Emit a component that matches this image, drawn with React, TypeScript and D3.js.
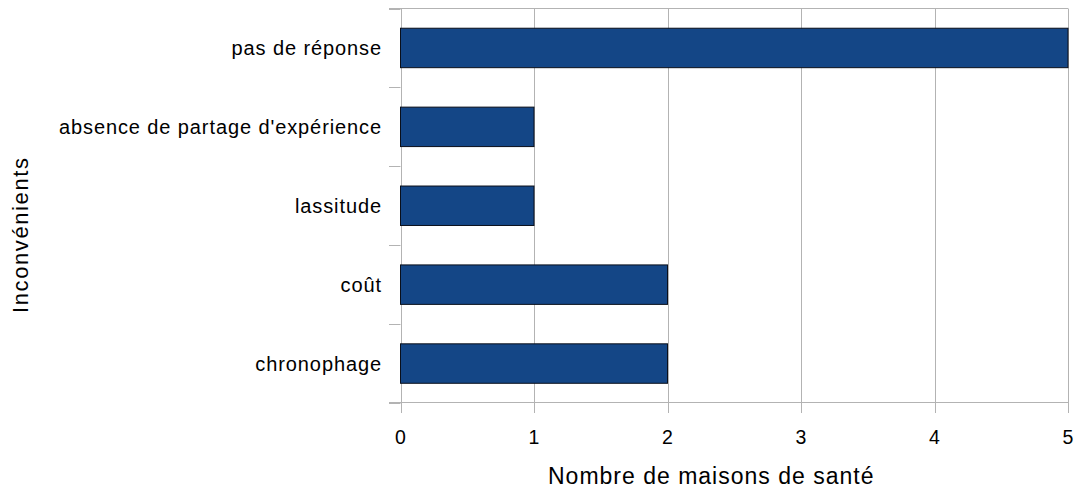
import React from "react";
import * as d3 from "d3";

const categories = ["pas de réponse", "absence de partage d'expérience", "lassitude", "coût", "chronophage"];
const values = [5, 1, 1, 2, 2];
const xTicks = [0, 1, 2, 3, 4, 5];
const xTitle = "Nombre de maisons de santé";
const yTitle = "Inconvénients";

const W = 1078, H = 491;
const left = 400.5, right = 1068, top = 8.5, bottom = 403;
const font = "'Liberation Sans', Arial, sans-serif";

export default function App() {
  const x = d3.scaleLinear().domain([0, 5]).range([left, right]);
  const y = d3.scaleBand().domain(categories).range([top, bottom]).paddingInner(0.5).paddingOuter(0.25);
  const band = (bottom - top) / categories.length;
  const bounds = d3.range(categories.length + 1).map((i) => top + i * band);
  return (
    <svg width={W} height={H} style={{ position: "absolute", left: 0, top: 0, background: "#fff" }}>
      {xTicks.map((t) => (
        <line key={"g" + t} x1={Math.round(x(t)) + 0.5} x2={Math.round(x(t)) + 0.5} y1={top} y2={bottom + 10} stroke="#b3b3b3" strokeWidth={1} />
      ))}
      <line x1={389} x2={right} y1={top} y2={top} stroke="#b3b3b3" />
      <line x1={389} x2={right} y1={bottom - 0.5} y2={bottom - 0.5} stroke="#b3b3b3" />
      {bounds.map((b, i) => (
        <line key={"yt" + i} x1={389} x2={left} y1={Math.round(b) + 0.5} y2={Math.round(b) + 0.5} stroke="#b3b3b3" />
      ))}
      {categories.map((c, i) => (
        <rect key={c} x={x(0)} y={y(c)!} width={x(values[i]) - x(0)} height={y.bandwidth()} fill="#144686" stroke="#0a0f1a" strokeWidth={1} />
      ))}
      {categories.map((c) => (
        <text key={"l" + c} x={382} y={y(c)! + y.bandwidth() / 2 + 7.5} textAnchor="end" fontFamily={font} fontSize={20} letterSpacing={0.9} fill="#000">{c}</text>
      ))}
      {xTicks.map((t) => (
        <text key={"xl" + t} x={x(t)} y={444} textAnchor="middle" fontFamily={font} fontSize={19.5} fill="#000">{t}</text>
      ))}
      <text x={548} y={483.5} textAnchor="start" fontFamily={font} fontSize={23} letterSpacing={1} fill="#000">{xTitle}</text>
      <text transform={`translate(28,313) rotate(-90)`} textAnchor="start" fontFamily={font} fontSize={22} letterSpacing={1.6} fill="#000">{yTitle}</text>
    </svg>
  );
}
